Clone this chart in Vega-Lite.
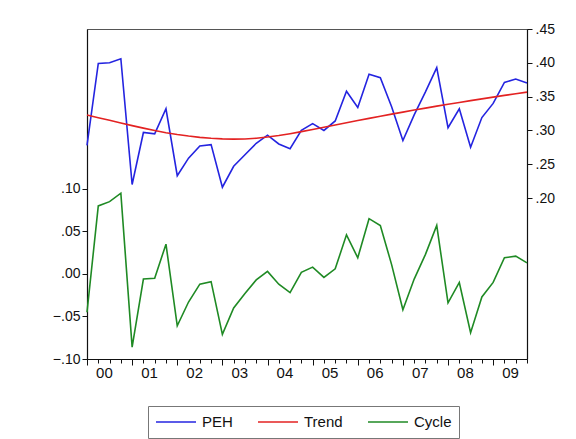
{
  "$schema": "https://vega.github.io/schema/vega-lite/v6.json",
  "width": 440,
  "height": 330,
  "autosize": {"type": "none"},
  "padding": {"left": 87, "top": 29, "right": 49, "bottom": 80},
  "background": "white",
  "config": {
    "view": {"stroke": "#555555", "strokeWidth": 1},
    "font": "Liberation Sans",
    "axis": {
      "grid": false,
      "domainColor": "#111111",
      "domainWidth": 1.2,
      "tickColor": "#111111",
      "labelColor": "#111111",
      "labelFont": "Liberation Sans",
      "labelFontSize": 14,
      "title": null
    }
  },
  "data": {
    "values": [
      {"q": 0, "PEH": 0.278, "Trend": 0.3228, "Cycle": -0.045},
      {"q": 1, "PEH": 0.399, "Trend": 0.3189, "Cycle": 0.080},
      {"q": 2, "PEH": 0.400, "Trend": 0.3150, "Cycle": 0.085},
      {"q": 3, "PEH": 0.406, "Trend": 0.3110, "Cycle": 0.095},
      {"q": 4, "PEH": 0.220, "Trend": 0.3071, "Cycle": -0.086},
      {"q": 5, "PEH": 0.297, "Trend": 0.3034, "Cycle": -0.006},
      {"q": 6, "PEH": 0.295, "Trend": 0.2999, "Cycle": -0.005},
      {"q": 7, "PEH": 0.332, "Trend": 0.2967, "Cycle": 0.035},
      {"q": 8, "PEH": 0.233, "Trend": 0.2940, "Cycle": -0.061},
      {"q": 9, "PEH": 0.259, "Trend": 0.2917, "Cycle": -0.033},
      {"q": 10, "PEH": 0.277, "Trend": 0.2898, "Cycle": -0.012},
      {"q": 11, "PEH": 0.279, "Trend": 0.2884, "Cycle": -0.009},
      {"q": 12, "PEH": 0.216, "Trend": 0.2875, "Cycle": -0.071},
      {"q": 13, "PEH": 0.247, "Trend": 0.2871, "Cycle": -0.040},
      {"q": 14, "PEH": 0.264, "Trend": 0.2874, "Cycle": -0.023},
      {"q": 15, "PEH": 0.281, "Trend": 0.2885, "Cycle": -0.007},
      {"q": 16, "PEH": 0.293, "Trend": 0.2903, "Cycle": 0.003},
      {"q": 17, "PEH": 0.280, "Trend": 0.2925, "Cycle": -0.012},
      {"q": 18, "PEH": 0.273, "Trend": 0.2952, "Cycle": -0.022},
      {"q": 19, "PEH": 0.300, "Trend": 0.2982, "Cycle": 0.002},
      {"q": 20, "PEH": 0.310, "Trend": 0.3014, "Cycle": 0.008},
      {"q": 21, "PEH": 0.300, "Trend": 0.3047, "Cycle": -0.004},
      {"q": 22, "PEH": 0.314, "Trend": 0.3080, "Cycle": 0.006},
      {"q": 23, "PEH": 0.358, "Trend": 0.3113, "Cycle": 0.046},
      {"q": 24, "PEH": 0.334, "Trend": 0.3146, "Cycle": 0.019},
      {"q": 25, "PEH": 0.383, "Trend": 0.3178, "Cycle": 0.065},
      {"q": 26, "PEH": 0.378, "Trend": 0.3210, "Cycle": 0.057},
      {"q": 27, "PEH": 0.335, "Trend": 0.3241, "Cycle": 0.011},
      {"q": 28, "PEH": 0.285, "Trend": 0.3271, "Cycle": -0.042},
      {"q": 29, "PEH": 0.323, "Trend": 0.3301, "Cycle": -0.006},
      {"q": 30, "PEH": 0.357, "Trend": 0.3330, "Cycle": 0.023},
      {"q": 31, "PEH": 0.393, "Trend": 0.3359, "Cycle": 0.057},
      {"q": 32, "PEH": 0.304, "Trend": 0.3387, "Cycle": -0.034},
      {"q": 33, "PEH": 0.332, "Trend": 0.3414, "Cycle": -0.010},
      {"q": 34, "PEH": 0.275, "Trend": 0.3441, "Cycle": -0.069},
      {"q": 35, "PEH": 0.319, "Trend": 0.3467, "Cycle": -0.027},
      {"q": 36, "PEH": 0.340, "Trend": 0.3493, "Cycle": -0.010},
      {"q": 37, "PEH": 0.371, "Trend": 0.3518, "Cycle": 0.019},
      {"q": 38, "PEH": 0.376, "Trend": 0.3543, "Cycle": 0.021},
      {"q": 39, "PEH": 0.370, "Trend": 0.3567, "Cycle": 0.013}
    ]
  },
  "encoding": {
    "x": {
      "field": "q",
      "type": "quantitative",
      "scale": {"domain": [0, 39], "nice": false, "zero": false},
      "axis": {
        "values": [0, 1, 1.5, 2, 3, 4, 5, 5.5, 6, 7, 8, 9, 9.5, 10, 11, 12, 13, 13.5, 14, 15, 16, 17, 17.5, 18, 19, 20, 21, 21.5, 22, 23, 24, 25, 25.5, 26, 27, 28, 29, 29.5, 30, 31, 32, 33, 33.5, 34, 35, 36, 37, 37.5, 38, 39],
        "labelExpr": "(datum.value * 2) % 2 == 1 ? '0' + floor(datum.value / 4) : ''",
        "tickSize": {"condition": {"test": "datum.value % 4 == 0", "value": 6}, "value": 4},
        "tickOpacity": {"condition": {"test": "(datum.value * 2) % 2 == 1", "value": 0}, "value": 1},
        "labelPadding": 2,
        "labelFontSize": 15,
        "labelOverlap": false,
        "labelBound": false,
        "labelFlush": false
      }
    }
  },
  "layer": [
    {
      "transform": [{"fold": ["PEH", "Trend"], "as": ["series", "value"]}],
      "mark": {"type": "line", "strokeWidth": 1.6},
      "encoding": {
        "y": {
          "field": "value",
          "type": "quantitative",
          "scale": {"domain": [-0.038, 0.45], "nice": false, "zero": false},
          "axis": {
            "orient": "right",
            "values": [0.20, 0.25, 0.30, 0.35, 0.40, 0.45],
            "labelExpr": "replace(format(datum.value, '.2f'), '0.', '.')",
            "tickSize": 5,
            "labelPadding": 3,
            "labelFontSize": 14
          }
        },
        "color": {
          "field": "series",
          "type": "nominal",
          "scale": {"domain": ["PEH", "Trend", "Cycle"], "range": ["#2424e0", "#e32222", "#1f8a24"]},
          "legend": {
            "orient": "none",
            "legendX": 61,
            "legendY": 377,
            "direction": "horizontal",
            "title": null,
            "symbolType": "stroke",
            "symbolSize": 1600,
            "symbolStrokeWidth": 1.5,
            "clipHeight": 18,
            "labelFontSize": 15,
            "labelFont": "Liberation Sans",
            "labelColor": "#111111",
            "labelOffset": 5,
            "columnPadding": 24,
            "padding": 7,
            "strokeColor": "#777777",
            "fillColor": "white"
          }
        }
      }
    },
    {
      "mark": {"type": "line", "strokeWidth": 1.6},
      "encoding": {
        "y": {
          "field": "Cycle",
          "type": "quantitative",
          "scale": {"domain": [-0.10, 0.288], "nice": false, "zero": false},
          "axis": {
            "orient": "left",
            "values": [-0.10, -0.05, 0, 0.05, 0.10],
            "labelExpr": "replace(format(datum.value, '.2f'), '0.', '.')",
            "tickSize": 5,
            "labelPadding": 2,
            "labelFontSize": 14
          }
        },
        "color": {"datum": "Cycle", "type": "nominal"}
      }
    }
  ],
  "resolve": {"scale": {"y": "independent"}}
}
